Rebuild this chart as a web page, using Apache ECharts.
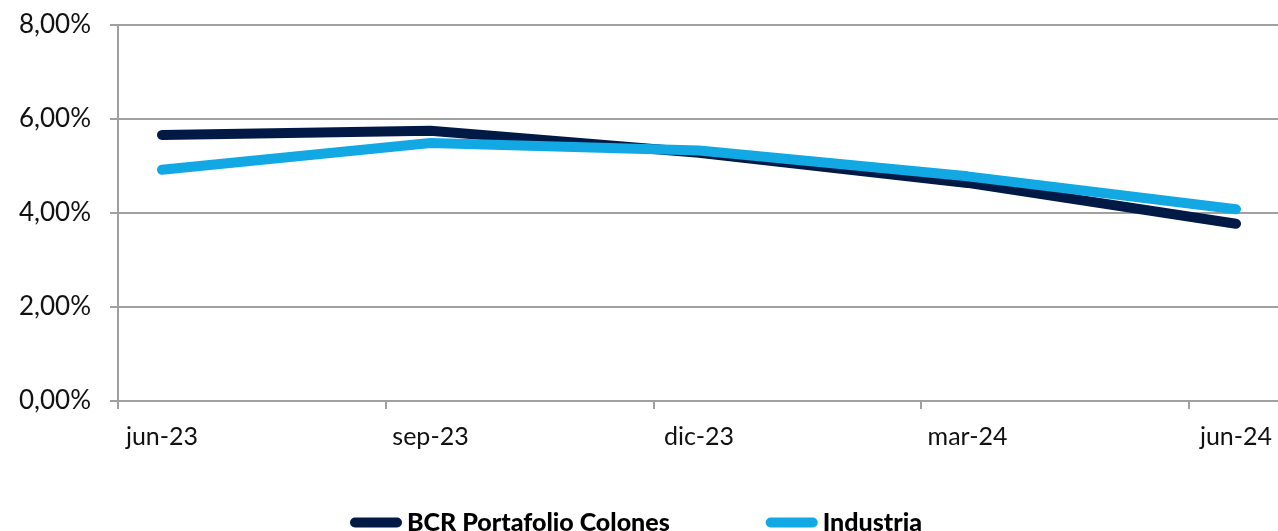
<!DOCTYPE html>
<html><head><meta charset="utf-8">
<script src="https://cdn.jsdelivr.net/npm/echarts@6/dist/echarts.min.js"></script>
<style>html,body{margin:0;padding:0;background:#fff}#c{width:1278px;height:531px}</style>
</head><body><div id="c"></div>
<script>
const categories = ['jun-23','sep-23','dic-23','mar-24','jun-24'];
const bcr = [5.66, 5.75, 5.28, 4.64, 3.77];
const industria = [4.92, 5.49, 5.33, 4.78, 4.08];
const yTicks = [0, 2, 4, 6, 8];

const font = 'Lato';
const chart = echarts.init(document.getElementById('c'));
const fmt = v => v.toFixed(2).replace('.', ',') + '%';
const pill = 'path://M5,0 L47,0 A5,5 0 0 1 47,10 L5,10 A5,5 0 0 1 5,0 Z';
chart.setOption({
  animation: false,
  grid: [
    {left: 118, right: 0, top: 25, bottom: 130},
    {left: 162, right: 42, top: 25, bottom: 130}
  ],
  xAxis: [
    {gridIndex: 0, type: 'value', min: 0, max: 13, interval: 3,
     axisLine: {show: true, lineStyle: {color: '#a0a0a0', width: 2}},
     axisTick: {show: true, length: 8, customValues: [0, 3, 6, 9, 12], lineStyle: {color: '#a0a0a0', width: 2}},
     axisLabel: {show: false}, splitLine: {show: false}},
    {gridIndex: 1, type: 'category', data: categories, boundaryGap: false,
     axisLine: {show: false}, axisTick: {show: false}, splitLine: {show: false},
     axisLabel: {margin: 23, fontFamily: font, fontSize: 25, color: '#111'}}
  ],
  yAxis: [
    {gridIndex: 0, type: 'value', min: yTicks[0], max: yTicks[yTicks.length-1], interval: 2,
     axisLine: {show: true, lineStyle: {color: '#a0a0a0', width: 2}},
     axisTick: {show: true, length: 8, lineStyle: {color: '#a0a0a0', width: 2}},
     splitLine: {show: true, lineStyle: {color: '#a0a0a0', width: 2}},
     axisLabel: {margin: 27, fontFamily: font, fontSize: 26, color: '#111', formatter: fmt}},
    {gridIndex: 1, type: 'value', min: 0, max: 8, interval: 2, show: false}
  ],
  legend: {
    bottom: -9, left: 345, itemGap: 96, itemWidth: 52, itemHeight: 10,
    textStyle: {fontFamily: font, fontSize: 25, fontWeight: 900, color: '#000'},
    data: [
      {name: 'BCR Portafolio Colones', icon: pill},
      {name: 'Industria', icon: pill}
    ]
  },
  series: [
    {name: 'BCR Portafolio Colones', type: 'line', xAxisIndex: 1, yAxisIndex: 1, data: bcr,
     showSymbol: false, color: '#001a45',
     lineStyle: {width: 10, cap: 'round', join: 'round', color: '#001a45'}},
    {name: 'Industria', type: 'line', xAxisIndex: 1, yAxisIndex: 1, data: industria,
     showSymbol: false, color: '#12a8e3',
     lineStyle: {width: 10, cap: 'round', join: 'round', color: '#12a8e3'}}
  ]
});
</script></body></html>
